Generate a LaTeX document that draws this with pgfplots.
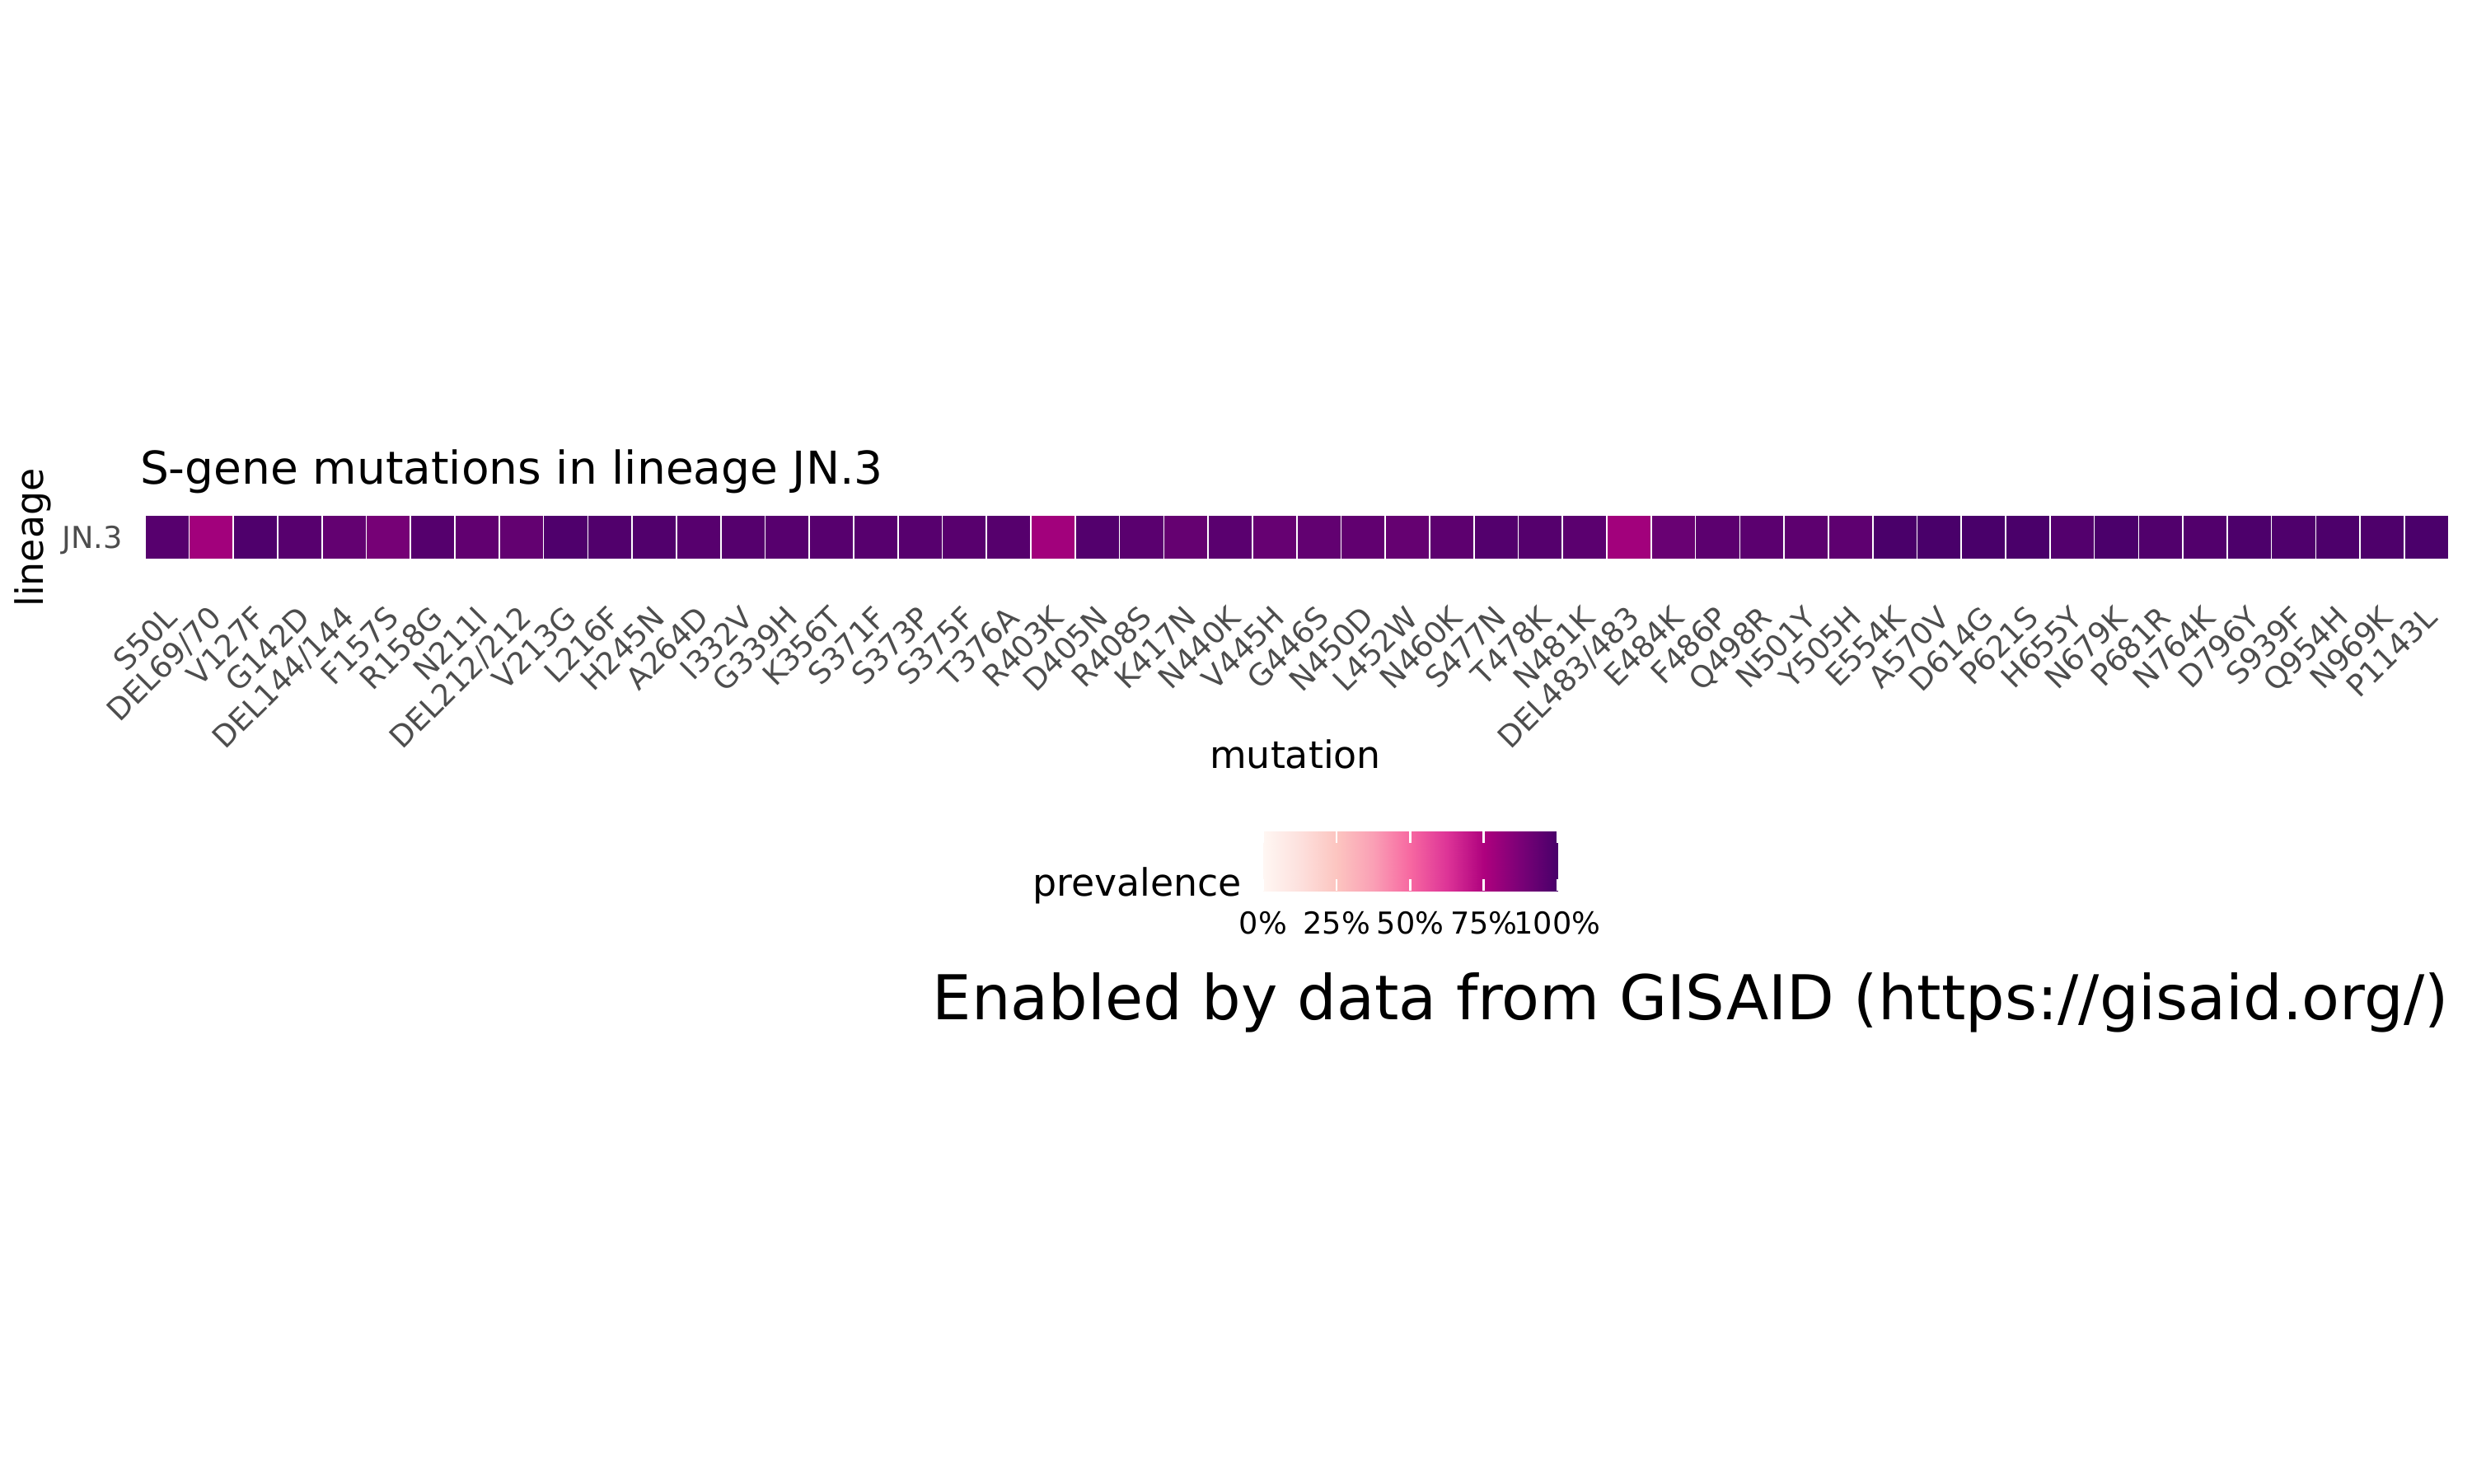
\documentclass[border=0pt]{standalone}
\usepackage{fontspec}
\setmainfont{DejaVu Sans}
\usepackage{pgfplots}
\pgfplotsset{compat=1.18}
\definecolor{grey30}{HTML}{4D4D4D}
\pgfplotsset{colormap={RdPu}{rgb255=(255,247,243) rgb255=(253,224,221) rgb255=(252,197,192) rgb255=(250,159,181) rgb255=(247,104,161) rgb255=(221,52,151) rgb255=(174,1,126) rgb255=(122,1,119) rgb255=(73,0,106)}}
\begin{document}
\begin{tikzpicture}
\path[use as bounding box] (0,0) rectangle (720pt,432pt);
\begin{axis}[
 at={(42.17pt,269.04pt)}, anchor=south west,
 scale only axis, width=671.04pt, height=12.9pt,
 xmin=0.5, xmax=52.5, ymin=0.5, ymax=1.5,
 clip=false,
 axis line style={draw=none},
 major tick length=0pt,
 xtick={1,...,52},
 xticklabels={S50L,DEL69/70,V127F,G142D,DEL144/144,F157S,R158G,N211I,DEL212/212,V213G,L216F,H245N,A264D,I332V,G339H,K356T,S371F,S373P,S375F,T376A,R403K,D405N,R408S,K417N,N440K,V445H,G446S,N450D,L452W,N460K,S477N,T478K,N481K,DEL483/483,E484K,F486P,Q498R,N501Y,Y505H,E554K,A570V,D614G,P621S,H655Y,N679K,P681R,N764K,D796Y,S939F,Q954H,N969K,P1143L},
 xticklabel style={xshift=-1.0pt, yshift=-12.8pt, rotate=45, anchor=north east, inner sep=0pt, text height=6.4pt, font=\fontsize{8.8}{10}\selectfont, text=grey30},
 ytick={1}, yticklabels={JN.3},
 yticklabel style={xshift=-6.3pt, yshift=-3.2pt, anchor=base east, inner sep=0pt, font=\fontsize{8.8}{10}\selectfont, text=grey30},
 colormap name=RdPu,
 point meta min=0, point meta max=1,
]
\addplot[scatter, only marks, mark=square*, mark size=6.4523pt, line width=0.4pt,
  point meta=explicit, scatter/use mapped color={draw=white, fill=mapped color}]
 coordinates {
 (1,1)[0.965] (2,1)[0.78] (3,1)[0.985] (4,1)[0.965] (5,1)[0.935] (6,1)[0.885]
 (7,1)[0.97] (8,1)[0.94] (9,1)[0.935] (10,1)[0.985] (11,1)[0.98] (12,1)[0.98]
 (13,1)[0.965] (14,1)[0.97] (15,1)[0.965] (16,1)[0.965] (17,1)[0.965] (18,1)[0.965]
 (19,1)[0.962] (20,1)[0.967] (21,1)[0.78] (22,1)[0.975] (23,1)[0.957] (24,1)[0.93]
 (25,1)[0.957] (26,1)[0.926] (27,1)[0.936] (28,1)[0.94] (29,1)[0.93] (30,1)[0.95]
 (31,1)[0.975] (32,1)[0.97] (33,1)[0.955] (34,1)[0.78] (35,1)[0.918] (36,1)[0.952]
 (37,1)[0.955] (38,1)[0.95] (39,1)[0.946] (40,1)[0.997] (41,1)[1.0] (42,1)[1.0]
 (43,1)[0.997] (44,1)[0.975] (45,1)[0.995] (46,1)[0.98] (47,1)[0.977] (48,1)[0.99]
 (49,1)[0.985] (50,1)[0.99] (51,1)[0.987] (52,1)[0.995]
 };
\end{axis}
% colour bar of the legend
\begin{axis}[
 at={(367.9pt,172.56pt)}, anchor=south west,
 scale only axis, width=85.7pt, height=17.3pt,
 xmin=0, xmax=1, ymin=0, ymax=1,
 axis line style={draw=none},
 axis on top,
 colormap name=RdPu,
 point meta min=0, point meta max=1,
 xtick={0,0.25,0.5,0.75,1},
 xticklabels={0\%,25\%,50\%,75\%,100\%},
 ytick=\empty,
 xtick align=inside, xtick pos=both, xticklabel pos=lower,
 major tick length=3.4pt,
 tick style={white, line width=0.6pt},
 xticklabel style={yshift=-5.76pt, anchor=north, inner sep=0pt, font=\fontsize{8.8}{10}\selectfont, text=black},
]
\addplot[surf, shader=interp, point meta=explicit, mesh/rows=2] coordinates {
 (0,0)[0] (0.125,0)[0.125] (0.25,0)[0.25] (0.375,0)[0.375] (0.5,0)[0.5] (0.625,0)[0.625] (0.75,0)[0.75] (0.875,0)[0.875] (1,0)[1]
 (0,1)[0] (0.125,1)[0.125] (0.25,1)[0.25] (0.375,1)[0.375] (0.5,1)[0.5] (0.625,1)[0.625] (0.75,1)[0.75] (0.875,1)[0.875] (1,1)[1]
 };
\end{axis}
\node[anchor=base west, inner sep=0pt, font=\fontsize{13.2}{15}\selectfont] at (40.6pt,291.1pt) {S-gene mutations in lineage JN.3};
\node[anchor=base, rotate=90, inner sep=0pt, font=\fontsize{11}{13}\selectfont] at (12.5pt,275.4pt) {lineage};
\node[anchor=base, inner sep=0pt, font=\fontsize{11}{13}\selectfont] at (377.3pt,208.3pt) {mutation};
\node[anchor=base east, inner sep=0pt, font=\fontsize{11}{13}\selectfont] at (361.9pt,171.0pt) {prevalence};
\node[anchor=base east, inner sep=0pt, font=\fontsize{18}{21}\selectfont] at (713.3pt,135.1pt) {Enabled by data from GISAID (https://gisaid.org/)};
\end{tikzpicture}
\end{document}
